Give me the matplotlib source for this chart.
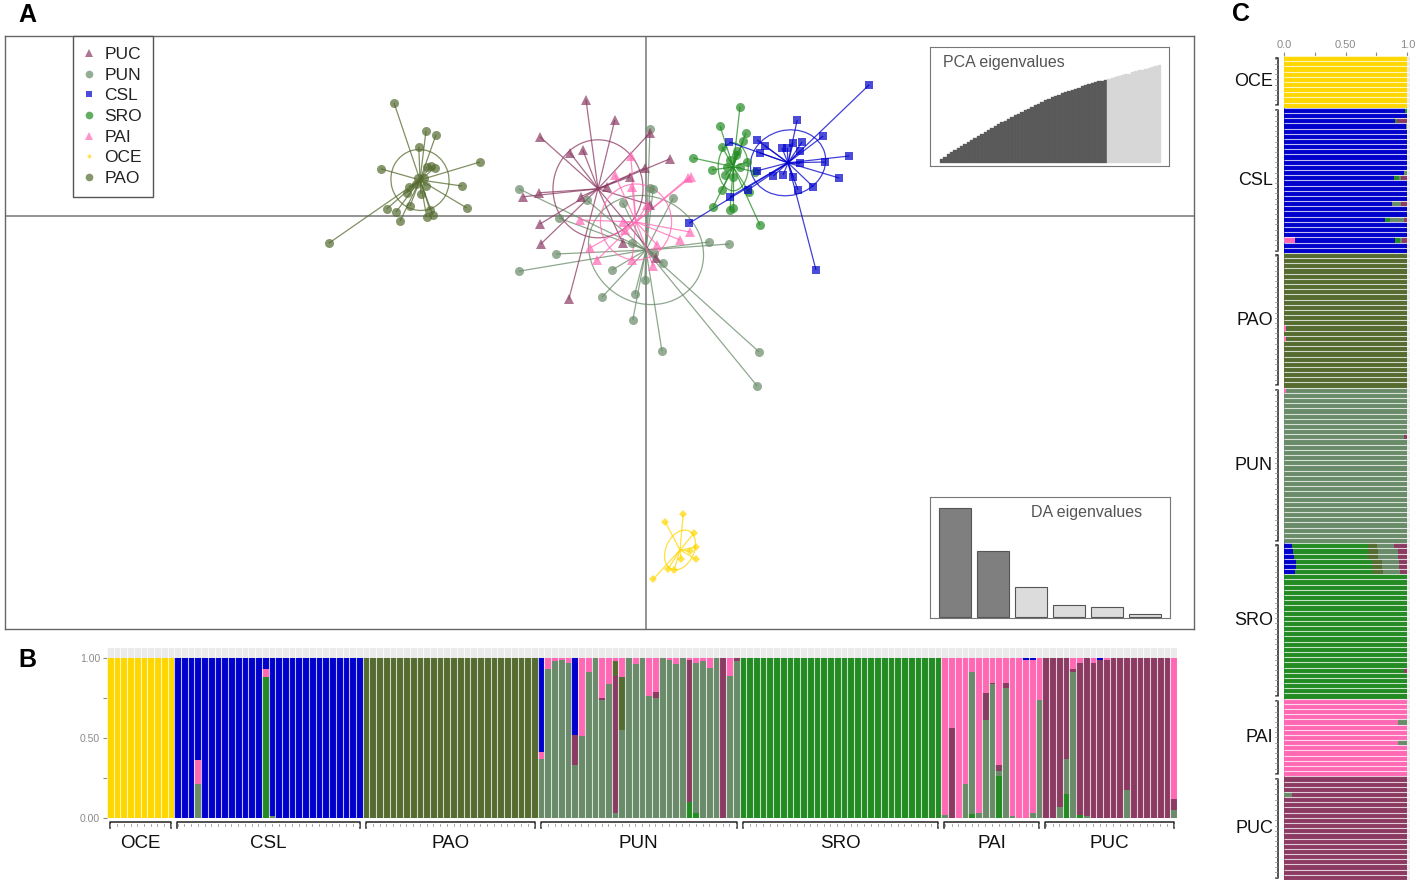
import matplotlib.pyplot as plt
import numpy as np
from matplotlib.collections import LineCollection
from matplotlib.patches import Ellipse
from matplotlib.lines import Line2D

plt.rcParams["font.family"] = ["Liberation Sans", "DejaVu Sans"]

# ---------------------------------------------------------------- data
groups = ["OCE", "CSL", "PAO", "PUN", "SRO", "PAI", "PUC"]
group_sizes = [10, 28, 26, 30, 30, 15, 20]

colors = {
    "OCE": "#FFD700",
    "CSL": "#0000CD",
    "PAO": "#556B2F",
    "PUN": "#698B69",
    "SRO": "#228B22",
    "PAI": "#FF69B4",
    "PUC": "#8B3A62",
}
markers = {"PUC": "^", "PUN": "o", "CSL": "s", "SRO": "o",
           "PAI": "^", "OCE": "D", "PAO": "o"}
marker_sizes = {"PUC": 7.5, "PUN": 6.5, "CSL": 5.5, "SRO": 6.5,
                "PAI": 7.5, "OCE": 4.0, "PAO": 6.5}
legend_order = ["PUC", "PUN", "CSL", "SRO", "PAI", "OCE", "PAO"]

# DAPC scores (LD1, LD2) per individual
pao_ld1 = [-6.30, -5.50, -5.25, -5.68, -6.63, -4.15, -5.48, -5.38, -5.28, -4.60,
           -5.93, -5.98, -5.63, -5.90, -6.48, -6.25, -4.48, -5.40, -5.33, -5.48,
           -6.15, -7.93, -5.70, -5.55, -5.75, -5.50]
pao_ld2 = [2.83, 2.13, 2.03, 1.73, 1.18, 1.35, 1.23, 1.25, 1.20, 0.75,
           0.73, 0.58, 0.55, 0.25, 0.18, 0.10, 0.20, 0.15, 0.03, -0.03,
           -0.13, -0.68, 0.95, 0.95, 0.80, 0.75]
puc_ld1 = [-1.50, -0.78, -2.65, -1.90, -1.58, 0.10, 0.60, -0.03, -0.40, -0.98,
           -2.68, -3.08, -1.63, -2.65, -2.63, -1.93, 0.10, -0.58, 0.25]
puc_ld2 = [2.90, 2.40, 1.98, 1.58, 1.65, 2.08, 1.43, 1.20, 0.98, 0.73,
           0.58, 0.48, 0.48, -0.20, -0.70, -2.08, 0.28, -0.68, -1.05]
pai_ld1 = [-0.38, -0.78, -0.35, 1.05, 1.13, -1.65, -0.58, -1.40, -1.23, 0.85,
           1.10, 0.18, -0.35, 0.28, 0.03, -0.53]
pai_ld2 = [1.50, 1.03, 0.73, 0.95, 0.98, -0.10, -0.15, -0.80, -1.10, -0.60,
           -0.40, -1.25, -1.10, -0.73, 0.28, -0.35]
pun_ld1 = [0.10, -3.18, 0.10, 0.18, 0.68, -0.58, -1.48, -2.18, -2.25, -3.18,
           1.58, 2.08, -0.85, -1.10, -0.28, -0.03, -0.33, 0.40, 2.83, 2.78,
           0.43, 0.20, -0.35]
pun_ld2 = [2.18, 0.68, 0.70, 0.68, 0.45, 0.33, 0.40, -0.05, -0.95, -1.38,
           -0.65, -0.70, -1.35, -2.03, -1.95, -1.60, -2.60, -3.38, -3.40, -4.25,
           -1.18, -0.93, -0.68]
sro_ld1 = [2.35, 1.85, 2.50, 2.43, 1.90, 2.28, 1.18, 2.53, 1.65, 2.73,
           2.18, 1.90, 2.58, 1.68, 2.10, 2.18, 2.85, 2.03, 2.35, 2.10,
           2.25, 1.98]
sro_ld2 = [2.73, 2.25, 2.08, 1.88, 1.73, 1.63, 1.45, 1.35, 1.15, 1.10,
           0.98, 0.65, 0.60, 0.23, 0.15, 0.20, -0.23, 1.23, 1.23, 1.40,
           1.53, 1.03]
csl_ld1 = [5.58, 3.78, 4.43, 2.08, 2.78, 2.98, 3.90, 3.68, 3.40, 3.53,
           2.85, 3.85, 5.08, 4.48, 3.85, 2.78, 3.18, 3.43, 3.68, 4.83,
           4.18, 3.80, 2.10, 2.55, 1.08, 4.25]
csl_ld2 = [3.28, 2.40, 2.00, 1.85, 1.90, 1.75, 1.85, 1.83, 1.70, 1.70,
           1.58, 1.63, 1.50, 1.35, 1.33, 1.13, 1.00, 1.03, 0.98, 0.95,
           0.73, 0.65, 0.48, 0.65, -0.18, -1.35]
oce_ld1 = [0.48, 0.93, 1.20, 1.25, 1.10, 1.25, 0.88, 0.55, 0.70, 0.18]
oce_ld2 = [-7.65, -7.45, -7.93, -8.28, -8.38, -8.58, -8.58, -8.83, -8.85, -9.08]

# group means and 1.5-sd ellipses (order as in `groups`)
centroid_ld1 = [0.85, 3.55, -5.65, 0.00, 2.18, -0.25, -1.20]
centroid_ld2 = [-8.35, 1.33, 0.90, -0.85, 1.23, -0.15, 0.68]
ellipse_w = [0.70, 1.90, 1.45, 2.95, 0.75, 1.78, 2.25]
ellipse_h = [1.05, 1.63, 1.53, 2.65, 1.20, 1.90, 2.45]
ellipse_angle = [-25, 15, 15, -30, 0, 0, 0]

# eigenvalue insets (PCA shown as cumulative variance)
pca_eig_cum = [11, 17, 24, 30, 36, 42, 49, 55, 61, 68, 73, 79, 85, 91, 97, 103,
               109, 115, 120, 125, 130, 135, 140, 145, 150, 155, 160, 165, 170,
               175, 180, 185, 190, 194, 198, 202, 206, 210, 213, 216, 220, 223,
               227, 230, 233, 236, 239, 242, 244, 247, 249, 252, 254, 257, 260,
               263, 265, 268, 271, 274, 276, 279, 282, 284, 286, 289]
n_pca_retained = 50
da_eig = [325, 197, 90, 37, 30, 10]
n_da_retained = 2

# ancestry coefficients: only non-majority parts listed, rest = own cluster
struct_b_csl = {3: {"PUN": 0.21, "PAI": 0.15}, 13: {"SRO": 0.88, "PAI": 0.05},
                14: {"PUN": 0.01}}
struct_b_pun = {0: {"PAI": 0.04, "CSL": 0.59}, 1: {"PAI": 0.07}, 2: {"PAI": 0.02},
                3: {"PAI": 0.01}, 4: {"PAI": 0.03}, 5: {"PUC": 0.19, "CSL": 0.48},
                6: {"PAI": 0.49}, 7: {"PAI": 0.09}, 9: {"PUC": 0.01, "PAI": 0.25},
                10: {"PAI": 0.16}, 11: {"PUC": 0.86, "PAO": 0.09, "PAI": 0.02},
                12: {"PAO": 0.33, "PAI": 0.12}, 14: {"PAI": 0.04}, 16: {"PAI": 0.24},
                17: {"PUC": 0.04, "PAI": 0.21}, 19: {"PAI": 0.01}, 20: {"PAI": 0.04},
                22: {"SRO": 0.10, "PUC": 0.89, "PAI": 0.01},
                23: {"SRO": 0.03, "PAI": 0.03}, 24: {"PAI": 0.02}, 25: {"PAI": 0.06},
                27: {"PUC": 1.0}, 28: {"PAI": 0.11}, 29: {"PUC": 0.02}}
struct_b_pai = {0: {"PUN": 0.02}, 1: {"PUC": 0.56}, 3: {"PUN": 0.21},
                4: {"SRO": 0.025, "PUN": 0.885}, 5: {"PUN": 0.03},
                6: {"PUN": 0.61, "PUC": 0.17}, 7: {"PUN": 0.835, "PUC": 0.01},
                8: {"SRO": 0.26, "PUN": 0.035, "PUC": 0.035},
                9: {"PUN": 0.81, "PUC": 0.035}, 10: {"PUN": 0.01}, 12: {"CSL": 0.01},
                13: {"PUN": 0.03, "CSL": 0.01}, 14: {"PUN": 0.74}}
struct_b_puc = {2: {"PUN": 0.07}, 3: {"SRO": 0.15, "PUN": 0.22},
                4: {"PUN": 0.91, "PAI": 0.07}, 5: {"SRO": 0.02, "PAI": 0.03},
                6: {"PUN": 0.01}, 7: {"PAI": 0.03}, 8: {"CSL": 0.01},
                9: {"PAI": 0.01}, 12: {"PUN": 0.175}, 19: {"PUN": 0.05, "PAI": 0.88}}

struct_c_csl = {0: {"SRO": 0.02}, 2: {"SRO": 0.02, "PUC": 0.08}, 3: {"PUN": 0.01},
                12: {"PUN": 0.03}, 13: {"SRO": 0.04, "PUN": 0.02, "PUC": 0.05},
                18: {"PUN": 0.065, "PUC": 0.055},
                21: {"SRO": 0.04, "PUN": 0.11, "PUC": 0.03},
                25: {"PAI": 0.09, "SRO": 0.04, "PUN": 0.015, "PUC": 0.045}}
struct_c_pao = {14: {"PAI": 0.02}, 16: {"PAI": 0.02}}
struct_c_pun = {0: {"PAI": 0.015}, 9: {"PUC": 0.03}}
struct_c_sro = {0: {"CSL": 0.065, "PAO": 0.073, "PUN": 0.138, "PUC": 0.105},
                1: {"CSL": 0.076, "PAO": 0.080, "PUN": 0.157, "PUC": 0.078},
                2: {"CSL": 0.080, "PAO": 0.084, "PUN": 0.162, "PUC": 0.078},
                3: {"CSL": 0.097, "PAO": 0.076, "PUN": 0.140, "PUC": 0.068},
                4: {"CSL": 0.095, "PAO": 0.086, "PUN": 0.138, "PUC": 0.065},
                5: {"CSL": 0.090, "PAO": 0.076, "PUN": 0.140, "PUC": 0.060},
                24: {"PUC": 0.03}}
struct_c_pai = {4: {"PUN": 0.075}, 8: {"PUN": 0.075}}
struct_c_puc = {3: {"PUN": 0.065}}

stack_order_b = ["SRO", "PUN", "PUC", "PAO", "PAI", "CSL", "OCE"]
stack_order_c = ["PAI", "CSL", "SRO", "PAO", "PUN", "PUC", "OCE"]


def membership(exceptions):
    rows = []
    for g, n in zip(groups, group_sizes):
        exc = exceptions.get(g, {})
        for i in range(n):
            q = dict.fromkeys(groups, 0.0)
            other = exc.get(i, {})
            q.update(other)
            q[g] = max(0.0, 1.0 - sum(other.values()))
            rows.append(q)
    return rows


W, H = 1417, 885
fig = plt.figure(figsize=(W / 100, H / 100), dpi=100)


def px_axes(x0, y0, x1, y1):
    return fig.add_axes([x0 / W, 1 - y1 / H, (x1 - x0) / W, (y1 - y0) / H])


# ---------------------------------------------------------------- panel A
ax = px_axes(5, 36, 1194, 629)
ax.set_xlim(-16.025, 13.7)
ax.set_ylim(-10.325, 4.5)
ax.set_xticks([])
ax.set_yticks([])
for sp in ax.spines.values():
    sp.set_color("#666666")
    sp.set_linewidth(1.0)
ax.axhline(0, color="#777777", lw=1.1, zorder=1)
ax.axvline(0, color="#777777", lw=1.1, zorder=1)

scores = {
    "OCE": (oce_ld1, oce_ld2), "CSL": (csl_ld1, csl_ld2), "PAO": (pao_ld1, pao_ld2),
    "PUN": (pun_ld1, pun_ld2), "SRO": (sro_ld1, sro_ld2), "PAI": (pai_ld1, pai_ld2),
    "PUC": (puc_ld1, puc_ld2),
}
draw_order = ["PAO", "PUN", "PUC", "PAI", "SRO", "CSL", "OCE"]
for g in draw_order:
    k = groups.index(g)
    cx, cy = centroid_ld1[k], centroid_ld2[k]
    xs, ys = scores[g]
    segs = [[(cx, cy), (x, y)] for x, y in zip(xs, ys)]
    ax.add_collection(LineCollection(segs, colors=colors[g], linewidths=0.9,
                                     alpha=0.75, zorder=2))
    ax.add_patch(Ellipse((cx, cy), ellipse_w[k], ellipse_h[k], angle=ellipse_angle[k],
                         fill=False, edgecolor=colors[g], lw=0.9, alpha=0.75, zorder=2))
    ax.plot(xs, ys, linestyle="none", marker=markers[g], markersize=marker_sizes[g],
            color=colors[g], alpha=0.7, markeredgewidth=0, zorder=3)

handles = [Line2D([], [], linestyle="none", marker=markers[g], color=colors[g],
                  alpha=0.7, markeredgewidth=0,
                  markersize=marker_sizes[g] * (0.6 if g == "OCE" else 0.85))
           for g in legend_order]
leg = ax.legend(handles, legend_order, loc="upper left",
                bbox_to_anchor=((73 - 5) / 1189, 1.0), borderaxespad=0,
                fontsize=12.5, frameon=True, fancybox=False, framealpha=1,
                edgecolor="#555555", handlelength=0.6, handletextpad=0.6,
                labelspacing=0.32, borderpad=0.62)
leg.get_frame().set_linewidth(1.0)
for t in leg.get_texts():
    t.set_color("#222222")

# PCA eigenvalues inset
ax_pca = px_axes(930, 47, 1169, 166)
n_pca = len(pca_eig_cum)
pca_cols = ["#595959" if i < n_pca_retained else "#d6d6d6" for i in range(n_pca)]
pca_edges = ["#626262" if i < n_pca_retained else "#dcdcdc" for i in range(n_pca)]
ax_pca.bar(np.arange(n_pca), pca_eig_cum, width=1.0, color=pca_cols,
           edgecolor=pca_edges, linewidth=0.25)
ax_pca.set_xlim(-3.49, n_pca - 0.5 + 2.39)
ax_pca.set_ylim(-0.036 * max(pca_eig_cum), 1.19 * max(pca_eig_cum))
ax_pca.set_xticks([])
ax_pca.set_yticks([])
for sp in ax_pca.spines.values():
    sp.set_color("#777777")
ax_pca.text(0.055, 0.87, "PCA eigenvalues", transform=ax_pca.transAxes,
            fontsize=11.5, color="#555555", ha="left", va="center")

# DA eigenvalues inset
ax_da = px_axes(930, 497, 1170, 618)
da_cols = ["#7f7f7f" if i < n_da_retained else "#dcdcdc" for i in range(len(da_eig))]
ax_da.bar(np.arange(len(da_eig)), da_eig, width=0.84, color=da_cols,
          edgecolor="#555555", linewidth=0.8)
ax_da.set_xlim(-0.657, len(da_eig) - 1 + 0.657)
ax_da.set_ylim(-0.009 * max(da_eig), 1.098 * max(da_eig))
ax_da.set_xticks([])
ax_da.set_yticks([])
for sp in ax_da.spines.values():
    sp.set_color("#777777")
ax_da.text(0.654, 0.876, "DA eigenvalues", transform=ax_da.transAxes,
           fontsize=11.5, color="#555555", ha="center", va="center")

# ---------------------------------------------------------------- panel B
q_b = membership({"CSL": struct_b_csl, "PUN": struct_b_pun,
                  "PAI": struct_b_pai, "PUC": struct_b_puc})
n_ind = len(q_b)
ax_b = px_axes(107, 648.4, 1177, 818)
ax_b.set_facecolor("#EBEBEB")
xb = np.arange(n_ind)
bottom = np.zeros(n_ind)
for c in stack_order_b:
    vals = np.array([q[c] for q in q_b])
    ax_b.bar(xb, vals, bottom=bottom, width=1.0, color=colors[c], linewidth=0)
    bottom += vals
ax_b.vlines(np.arange(n_ind + 1) - 0.5, 0, 1.06, color="white", lw=0.8, alpha=0.75)
ax_b.set_xlim(-0.5, n_ind - 0.5)
ax_b.set_ylim(0, 1.06)
ax_b.set_xticks([])
ax_b.set_yticks([0, 0.25, 0.5, 0.75, 1.0])
ax_b.set_yticklabels(["0.00", "", "0.50", "", "1.00"])
ax_b.tick_params(axis="y", labelsize=7.5, labelcolor="#8a8a8a", color="#8a8a8a",
                 length=3, width=0.8, pad=2)
for sp in ax_b.spines.values():
    sp.set_visible(False)

start = 0
for g, n in zip(groups, group_sizes):
    a, b = start - 0.05, start + n - 0.95
    ax_b.plot([a, a, b, b], [-0.0625, -0.025, -0.025, -0.0625], color="#222222",
              lw=1.1, clip_on=False)
    for i in range(start, start + n):
        ax_b.plot([i, i], [-0.035, -0.05], color="#9a9a9a", lw=0.6, clip_on=False)
    ax_b.text(start + n / 2 - 0.5, -0.158, g, fontsize=13.5, ha="center", va="center",
              color="#111111")
    start += n

# ---------------------------------------------------------------- panel C
q_c = membership({"CSL": struct_c_csl, "PAO": struct_c_pao, "PUN": struct_c_pun,
                  "SRO": struct_c_sro, "PAI": struct_c_pai, "PUC": struct_c_puc})
ax_c = px_axes(1284, 56, 1410, 880)
ax_c.set_facecolor("#EBEBEB")
yc = np.arange(n_ind)
left = np.zeros(n_ind)
for c in stack_order_c:
    vals = np.array([q[c] for q in q_c])
    ax_c.barh(yc, vals, left=left, height=1.0, color=colors[c], linewidth=0)
    left += vals
ax_c.hlines(np.arange(n_ind + 1) - 0.5, 0, 1.022, color="white", lw=0.8, alpha=0.75)
ax_c.set_xlim(0, 1.022)
ax_c.set_ylim(n_ind - 0.5, -0.5)
ax_c.set_yticks([])
ax_c.xaxis.tick_top()
ax_c.set_xticks([0, 0.25, 0.5, 0.75, 1.0])
ax_c.set_xticklabels(["0.0", "", "0.50", "", "1.0"])
ax_c.tick_params(axis="x", labelsize=8, labelcolor="#8a8a8a", color="#8a8a8a",
                 length=3, width=0.8, pad=1.5)
for sp in ax_c.spines.values():
    sp.set_visible(False)

start = 0
for g, n in zip(groups, group_sizes):
    a, b = start - 0.05, start + n - 0.95
    ax_c.plot([-0.065, -0.045, -0.045, -0.065], [a, a, b, b], color="#222222",
              lw=1.1, clip_on=False)
    for i in range(start, start + n):
        ax_c.plot([-0.075, -0.058], [i, i], color="#9a9a9a", lw=0.6, clip_on=False)
    ax_c.text(-0.09, start + n / 2 - 0.5, g, fontsize=13, ha="right", va="center",
              color="#111111")
    start += n

# ---------------------------------------------------------------- labels
fig.text(27 / W, 1 - 15 / H, "A", fontsize=18, fontweight="bold", ha="center", va="center")
fig.text(27 / W, 1 - 660 / H, "B", fontsize=18, fontweight="bold", ha="center", va="center")
fig.text(1241 / W, 1 - 14 / H, "C", fontsize=18, fontweight="bold", ha="center", va="center")

fig.savefig("out.png", dpi=100)
plt.close(fig)
